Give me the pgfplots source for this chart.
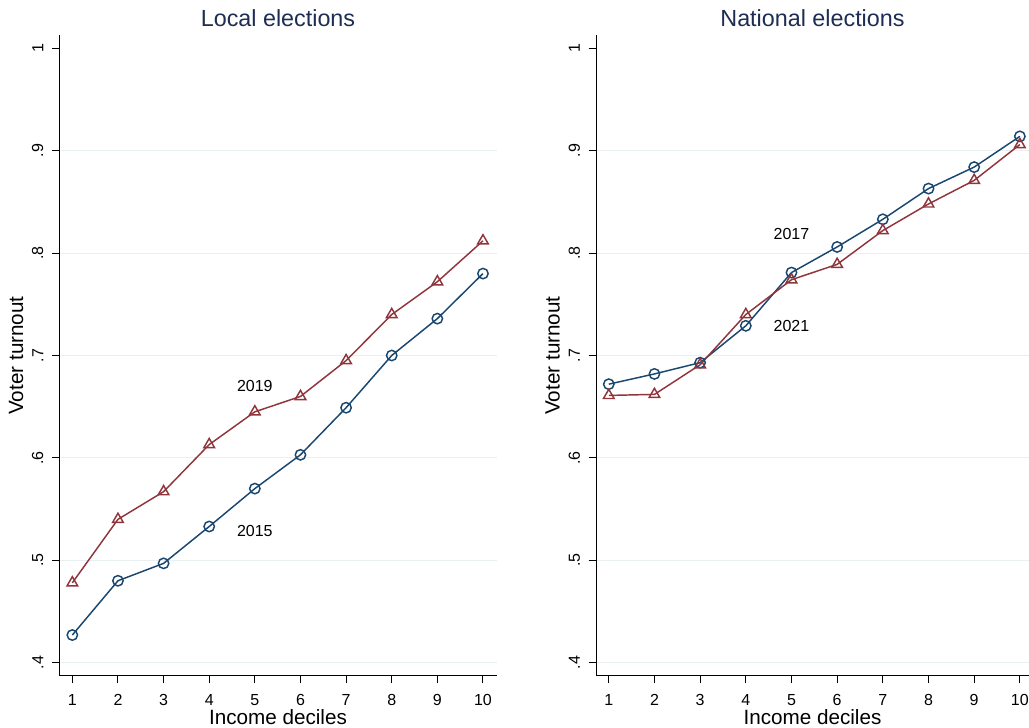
\documentclass[border=0pt]{standalone}
\usepackage{pgfplots}
\pgfplotsset{compat=1.18}
\usepackage{fontspec}
\setmainfont{Liberation Sans}
\definecolor{snavy}{RGB}{26,71,111}
\definecolor{smaroon}{RGB}{144,53,59}
\definecolor{titlecol}{RGB}{30,45,83}
\definecolor{gridcol}{RGB}{232,240,242}
\tikzset{ttl/.style={font=\fontsize{17.5pt}{20pt}\selectfont, text=titlecol, anchor=center, inner sep=0pt}}
\pgfplotsset{
  stata/.style={
    scale only axis,
    height=480.75pt,
    ymin=0.387, ymax=1.013,
    axis lines*=left,
    axis line style={line width=0.75pt, -},
    tick align=outside,
    major tick length=5.5pt,
    tick style={line width=0.75pt, black},
    xtick={1,...,10},
    ytick={0.4,0.5,0.6,0.7,0.8,0.9},
    yticklabels={.4,.5,.6,.7,.8,.9},
    extra y ticks={1},
    extra y tick labels={1},
    extra y tick style={grid=none},
    ymajorgrids,
    major grid style={line width=0.8pt, gridcol},
    /pgf/number format/assume math mode=true,
    ticklabel style={font=\fontsize{12pt}{14pt}\selectfont},
    xticklabel style={yshift=-5pt},
    yticklabel style={rotate=90, anchor=south, yshift=3pt},
    xlabel style={at={(axis description cs:0.5,0)}, anchor=center, yshift=-31pt, font=\fontsize{15.5pt}{18pt}\selectfont},
    ylabel style={at={(axis description cs:0,0.5)}, anchor=center, yshift=32.5pt, font=\fontsize{15.5pt}{18pt}\selectfont},
    xlabel={Income deciles},
    ylabel={Voter turnout},
    clip=false,
  },
  bl/.style={color=snavy, line width=1.1pt, mark=o, mark size=3.9pt, mark options={line width=1.1pt, fill=none}},
  rd/.style={color=smaroon, line width=1.1pt, mark=triangle, mark size=4.6pt, mark options={line width=1.1pt, fill=none}},
}
\begin{document}
\begin{tikzpicture}[x=1pt,y=1pt]
\useasboundingbox (0,0) rectangle (771.75,546);
\begin{axis}[stata, at={(44.5pt,39pt)}, anchor=south west, width=328pt,
  xmin=0.715, xmax=10.3]
\addplot[bl] coordinates {(1,0.427) (2,0.480) (3,0.497) (4,0.533) (5,0.570) (6,0.603) (7,0.649) (8,0.700) (9,0.736) (10,0.780)};
\addplot[rd] coordinates {(1,0.478) (2,0.540) (3,0.567) (4,0.613) (5,0.645) (6,0.660) (7,0.695) (8,0.740) (9,0.772) (10,0.812)};
\node[font=\fontsize{12pt}{14pt}\selectfont] at (axis cs:5,0.670) {2019};
\node[font=\fontsize{12pt}{14pt}\selectfont] at (axis cs:5,0.529) {2015};
\node[ttl] at ([yshift=12.5pt]rel axis cs:0.5,1) {Local elections};
\end{axis}
\begin{axis}[stata, at={(447pt,39pt)}, anchor=south west, width=324.75pt,
  xmin=0.72, xmax=10.2]
\addplot[bl] coordinates {(1,0.672) (2,0.682) (3,0.693) (4,0.729) (5,0.781) (6,0.806) (7,0.833) (8,0.863) (9,0.884) (10,0.914)};
\addplot[rd] coordinates {(1,0.661) (2,0.662) (3,0.691) (4,0.740) (5,0.774) (6,0.789) (7,0.822) (8,0.848) (9,0.871) (10,0.906)};
\node[font=\fontsize{12pt}{14pt}\selectfont] at (axis cs:5,0.819) {2017};
\node[font=\fontsize{12pt}{14pt}\selectfont] at (axis cs:5,0.729) {2021};
\node[ttl] at ([yshift=12.5pt]rel axis cs:0.5,1) {National elections};
\end{axis}
\end{tikzpicture}
\end{document}
